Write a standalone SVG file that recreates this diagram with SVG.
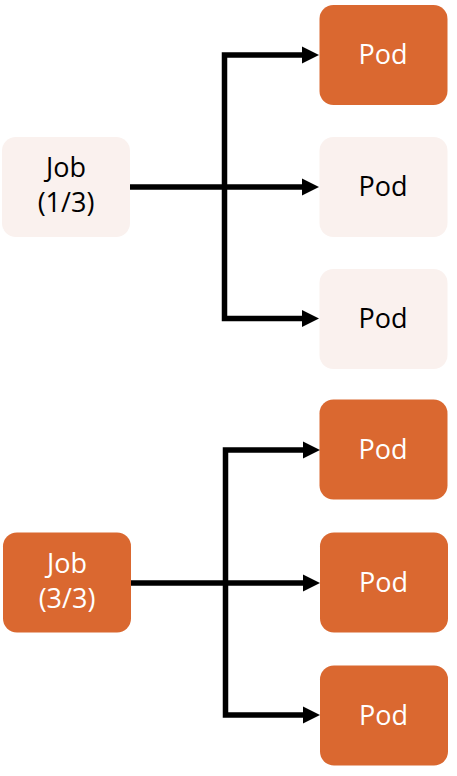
<svg xmlns="http://www.w3.org/2000/svg" width="457" height="776" viewBox="0 0 457 776">
<style>
.box{stroke:none}
.on{fill:#DA6830}
.off{fill:#FAF1EE}
.t{font-family:"Open Sans","Liberation Sans",sans-serif;font-size:27px;text-anchor:middle}
.tw{fill:#FFFFFF}
.tb{fill:#000000}
.c{fill:none;stroke:#000;stroke-width:5.5;stroke-linejoin:miter}
</style>
<defs>
<marker id="ah" markerUnits="userSpaceOnUse" markerWidth="18" markerHeight="18" viewBox="0 0 18 18" refX="0" refY="9" orient="auto">
<path d="M0 0.5 L17 9 L0 17.5 Z" fill="#000"/>
</marker>
</defs>
<g id="job1"><rect class="box off" x="2" y="137" width="128" height="100" rx="14"/><text class="t tb" x="66" y="177">Job</text><text class="t tb" x="66" y="212">(1/3)</text></g>
<g id="pod1"><rect class="box on" x="319.5" y="5" width="128" height="100" rx="14"/><text class="t tw" x="383" y="64">Pod</text></g>
<g id="pod2"><rect class="box off" x="319.5" y="137" width="128" height="100" rx="14"/><text class="t tb" x="383" y="196">Pod</text></g>
<g id="pod3"><rect class="box off" x="319.5" y="269" width="128" height="100" rx="14"/><text class="t tb" x="383" y="328">Pod</text></g>
<g id="job2"><rect class="box on" x="3" y="532.5" width="128" height="100" rx="14"/><text class="t tw" x="67" y="573">Job</text><text class="t tw" x="67" y="608">(3/3)</text></g>
<g id="pod4"><rect class="box on" x="319.5" y="399.5" width="128" height="100" rx="14"/><text class="t tw" x="383" y="458.5">Pod</text></g>
<g id="pod5"><rect class="box on" x="320" y="532.5" width="128" height="100" rx="14"/><text class="t tw" x="383.5" y="591.5">Pod</text></g>
<g id="pod6"><rect class="box on" x="320" y="665.5" width="128" height="100" rx="14"/><text class="t tw" x="383.5" y="724.5">Pod</text></g>
<g id="connectors">
<path class="c" d="M130 187 H302" marker-end="url(#ah)"/>
<path class="c" d="M224.5 187 V55 H302" marker-end="url(#ah)"/>
<path class="c" d="M224.5 187 V318.5 H302" marker-end="url(#ah)"/>
<path class="c" d="M131 583 H303" marker-end="url(#ah)"/>
<path class="c" d="M225.5 583 V450 H303" marker-end="url(#ah)"/>
<path class="c" d="M225.5 583 V715 H303" marker-end="url(#ah)"/>
</g>
</svg>
